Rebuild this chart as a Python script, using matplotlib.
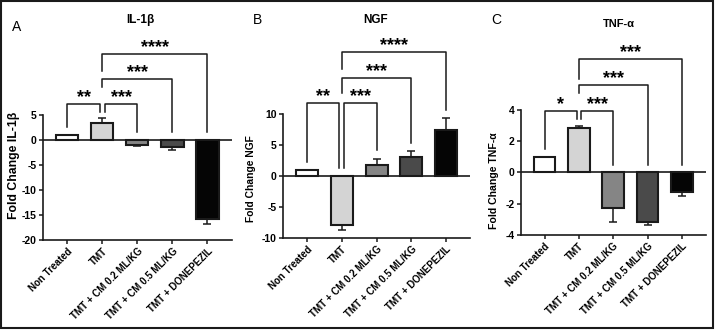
import matplotlib
matplotlib.use("Agg")
import matplotlib.pyplot as plt
from matplotlib.patches import Rectangle

plt.rcParams['font.family'] = ['Liberation Sans', 'DejaVu Sans']

groups = ["Non Treated", "TMT", "TMT + CM 0.2 ML/KG", "TMT + CM 0.5 ML/KG", "TMT + DONEPEZIL"]
bar_colors = ["#ffffff", "#d4d4d4", "#858585", "#4a4a4a", "#050505"]

il1b_mean = [0.9, 3.4, -1.0, -1.5, -15.9]
il1b_err = [0.0, 0.9, 0.25, 0.45, 0.9]

ngf_mean = [1.0, -7.9, 1.8, 3.1, 7.4]
ngf_err = [0.0, 0.8, 1.0, 0.9, 1.9]

tnf_mean = [0.96, 2.86, -2.25, -3.2, -1.25]
tnf_err = [0.0, 0.12, 0.9, 0.18, 0.25]

# brackets: (left x, right x, bar level, left foot, right foot, label)
il1b_sig = [(0, 0.93, 7.2, 2.6, 5.6, "**"), (1.07, 2, 7.2, 5.6, 1.6, "***"),
            (1, 3, 12.2, 10.6, 1.6, "***"), (1, 4, 17.2, 13.8, 1.6, "****")]
ngf_sig = [(0, 0.93, 11.8, 2.2, 1.3, "**"), (1.07, 2, 11.8, 1.3, 4.2, "***"),
           (1, 3, 15.8, 13.3, 5.3, "***"), (1, 4, 20.0, 17.3, 10.6, "****")]
tnf_sig = [(0, 0.93, 3.9, 1.5, 3.4, "*"), (1.07, 2, 3.9, 3.4, 0.45, "***"),
           (1, 3, 5.6, 5.1, 0.45, "***"), (1, 4, 7.25, 6.0, 0.45, "***")]

panels = [
    dict(rect=[0.060, 0.273, 0.264, 0.379], mean=il1b_mean, err=il1b_err, sig=il1b_sig,
         ylim=(-20, 5), ticks=[-20, -15, -10, -5, 0, 5], title="IL-1β", title_size=8.5,
         ylabel="Fold Change IL-1β", ylabel_size=8.8, ylabel_y=165,
         letter="A", letter_xy=(12, 27), title_xy=(140, 20), ylabel_x=14),
    dict(rect=[0.395, 0.279, 0.262, 0.376], mean=ngf_mean, err=ngf_err, sig=ngf_sig,
         ylim=(-10, 10), ticks=[-10, -5, 0, 5, 10], title="NGF", title_size=8.5,
         ylabel="Fold Change NGF", ylabel_size=7.4, ylabel_y=179,
         letter="B", letter_xy=(253, 20), title_xy=(376, 20), ylabel_x=251),
    dict(rect=[0.727, 0.288, 0.259, 0.379], mean=tnf_mean, err=tnf_err, sig=tnf_sig,
         ylim=(-4, 4), ticks=[-4, -2, 0, 2, 4], title="TNF-α", title_size=8,
         ylabel="Fold Change TNF-α", ylabel_size=7.6, ylabel_y=181,
         letter="C", letter_xy=(491, 20), title_xy=(619, 24), ylabel_x=494),
]

W, H = 716, 330
fig = plt.figure(figsize=(W / 100, H / 100), dpi=100)

x = list(range(len(groups)))
for p in panels:
    ax = fig.add_axes(p["rect"])
    ax.bar(x, p["mean"], width=0.63, color=bar_colors, edgecolor="#1a1a1a", linewidth=1.5, zorder=3)
    for xi, m, e in zip(x, p["mean"], p["err"]):
        if e > 0:
            lo = [0] if m > 0 else [e]
            hi = [e] if m > 0 else [0]
            ax.errorbar(xi, m, yerr=[lo, hi], fmt="none", ecolor="#1a1a1a",
                        elinewidth=1.1, capsize=3.2, capthick=1.1, zorder=2)
    ax.axhline(0, color="#1a1a1a", linewidth=1.2, zorder=4)
    ax.set_xlim(-0.7, 4.7)
    ax.set_ylim(*p["ylim"])
    ax.set_yticks(p["ticks"])
    ax.set_yticklabels([str(t) for t in p["ticks"]], fontsize=7.5, fontweight="bold")
    ax.set_xticks(x)
    ax.set_xticklabels(groups, rotation=45, ha="right", rotation_mode="anchor",
                       fontsize=7, fontweight="bold")
    for s in ["top", "right"]:
        ax.spines[s].set_visible(False)
    for s in ["left", "bottom"]:
        ax.spines[s].set_linewidth(1.2)
        ax.spines[s].set_color("#1a1a1a")
    ax.tick_params(axis="both", length=3, width=1.1, pad=1.5, color="#1a1a1a")

    for x1, x2, yl, f1, f2, lab in p["sig"]:
        ax.plot([x1, x1, x2, x2], [f1, yl, yl, f2], color="#1a1a1a", linewidth=1.1,
                clip_on=False, zorder=5)
        ax.annotate(lab, ((x1 + x2) / 2, yl), xytext=(0, 1.5), textcoords="offset points",
                    ha="center", va="baseline", fontsize=13, fontweight="bold",
                    annotation_clip=False)

    fig.text(p["ylabel_x"] / W, 1 - p["ylabel_y"] / H, p["ylabel"], rotation=90,
             fontsize=p["ylabel_size"], fontweight="bold", ha="center", va="center")
    lx, ly = p["letter_xy"]
    fig.text(lx / W, 1 - ly / H, p["letter"], fontsize=10, ha="left", va="center")
    tx, ty = p["title_xy"]
    fig.text(tx / W, 1 - ty / H, p["title"], fontsize=p["title_size"], fontweight="bold",
             ha="center", va="center")

fig.add_artist(Rectangle((0.002, 0.006), 0.994, 0.99, transform=fig.transFigure,
                         fill=False, edgecolor="#1a1a1a", linewidth=1.5))

fig.savefig("out.png", dpi=100)
